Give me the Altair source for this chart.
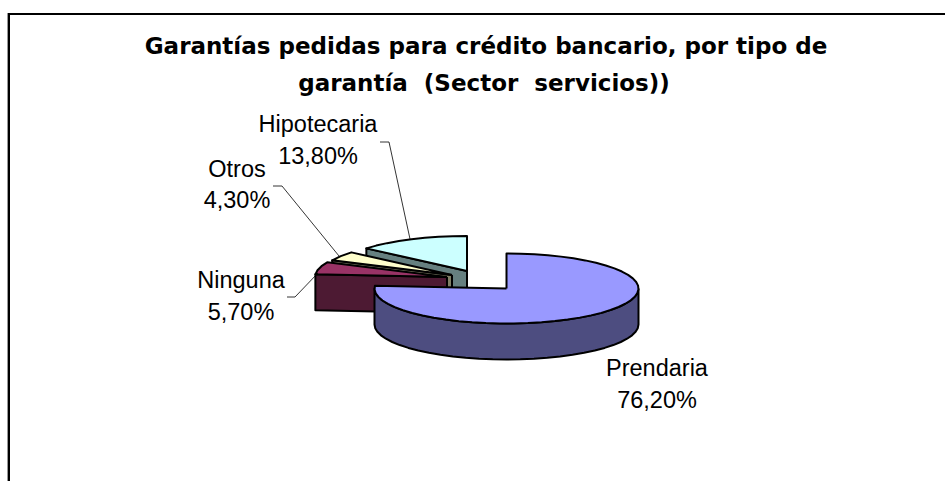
import math
import altair as alt
import pandas as pd

# Shares of each guarantee type, in drawing order clockwise from twelve o'clock
categories = ["Prendaria", "Ninguna", "Otros", "Hipotecaria"]
shares = [76.2, 5.7, 4.3, 13.8]
top_colors = ["#9999FF", "#993366", "#FFFFCC", "#CCFFFF"]
side_colors = ["#4D4D80", "#4D1A33", "#808066", "#668080"]
title_lines = [
    "Garantías pedidas para crédito bancario, por tipo de",
    "garantía \u00a0(Sector \u00a0servicios))",
]

WIDTH, HEIGHT = 945, 481
RX, RY, DEPTH = 132, 35, 36

# Each wedge is pulled out of the pie, so it has its own centre
centres = {
    "Prendaria": (506.5, 288.5),
    "Ninguna": (447, 277),
    "Otros": (452, 275),
    "Hipotecaria": (467, 271),
}
# Label anchor: centre x, name baseline, value baseline
label_anchor = {
    "Prendaria": (657, 376, 408),
    "Ninguna": (241, 288, 320),
    "Otros": (237, 177, 208),
    "Hipotecaria": (318, 132, 164),
}
# Leader elbows run from the label towards the rim
leaders = {
    "Ninguna": [(287, 297), (295, 297), (318, 273)],
    "Otros": [(273, 186), (282, 186), (339, 256)],
    "Hipotecaria": [(380, 142), (389, 142), (410, 239)],
}

x_scale = alt.Scale(domain=[0, WIDTH], range=[0, WIDTH], nice=False, zero=False)
y_scale = alt.Scale(domain=[0, HEIGHT], range=[0, HEIGHT], nice=False, zero=False)
X = lambda f="x": alt.X(f"{f}:Q", scale=x_scale, axis=None)
Y = lambda f="y": alt.Y(f"{f}:Q", scale=y_scale, axis=None)


def rim(centre, deg):
    rad = math.radians(deg)
    return centre[0] + RX * math.sin(rad), centre[1] - RY * math.cos(rad)


def polygon(points, fill, width=2.0):
    rows = [{"x": p[0], "y": p[1], "i": i} for i, p in enumerate(points + points[:1])]
    return (
        alt.Chart(pd.DataFrame(rows))
        .mark_line(fill=fill, stroke="#000000", strokeWidth=width, strokeJoin="round")
        .encode(x=X(), y=Y(), order="i:Q")
    )


def arc_points(centre, start, end, step=6):
    n = max(1, int(abs(end - start) / step))
    return [rim(centre, start + (end - start) * k / n) for k in range(n + 1)]


# Start and end angle of every wedge
spans = {}
angle = 0.0
for name, share in zip(categories, shares):
    spans[name] = (angle, angle + share * 3.6)
    angle += share * 3.6

faces = []
# Back wedges first: the cut face at the start of the wedge, then its top
for name in ["Hipotecaria", "Otros", "Ninguna"]:
    i = categories.index(name)
    c = centres[name]
    a, b = spans[name]
    p = rim(c, a)
    faces.append(polygon([c, p, (p[0], p[1] + DEPTH), (c[0], c[1] + DEPTH)], side_colors[i]))
    faces.append(polygon([c] + arc_points(c, a, b), top_colors[i]))

# The large wedge sits in front: outer wall, then top
c = centres["Prendaria"]
a, b = spans["Prendaria"]
front = arc_points(c, 90, 270)
wall = front + [(p[0], p[1] + DEPTH) for p in reversed(front)]
faces.append(polygon(wall, side_colors[0]))
faces.append(polygon([c] + arc_points(c, a, b), top_colors[0]))

# Leader lines
leader_layers = []
for name, pts in leaders.items():
    df = pd.DataFrame([{"x": p[0], "y": p[1], "i": i} for i, p in enumerate(pts)])
    leader_layers.append(
        alt.Chart(df)
        .mark_line(color="#000000", strokeWidth=0.8)
        .encode(x=X(), y=Y(), order="i:Q")
    )

# Category name and value labels
rows = []
for name, share in zip(categories, shares):
    ax, y1, y2 = label_anchor[name]
    rows.append({"x": ax, "y": y1, "t": name})
    rows.append({"x": ax, "y": y2, "t": f"{share:.2f}".replace(".", ",") + "%"})
labels = (
    alt.Chart(pd.DataFrame(rows))
    .mark_text(font="Liberation Sans", fontSize=23.5, color="#000000", align="center", baseline="alphabetic")
    .encode(x=X(), y=Y(), text="t:N")
)

title = (
    alt.Chart(pd.DataFrame({"x": [486, 484], "y": [54, 91], "t": title_lines}))
    .mark_text(font="DejaVu Sans", fontWeight="bold", fontSize=23, color="#000000", align="center", baseline="alphabetic")
    .encode(x=X(), y=Y(), text="t:N")
)

# Chart area border: top and left edges only
frame_top = alt.Chart(pd.DataFrame({"x": [8], "x2": [WIDTH], "y": [14]})).mark_rule(
    color="#000000", strokeWidth=2
).encode(x=X(), x2="x2:Q", y=Y())
frame_left = alt.Chart(pd.DataFrame({"x": [8.8], "y": [13], "y2": [HEIGHT]})).mark_rule(
    color="#000000", strokeWidth=2.4
).encode(x=X(), y=Y(), y2="y2:Q")

chart = (
    alt.layer(frame_top, frame_left, *faces, *leader_layers, labels, title)
    .properties(width=WIDTH, height=HEIGHT, padding=0, autosize=alt.AutoSizeParams(type="none"), background="#FFFFFF")
    .configure_view(stroke=None)
)

chart.save("out.html", embed_options={"renderer": "svg", "actions": False})
